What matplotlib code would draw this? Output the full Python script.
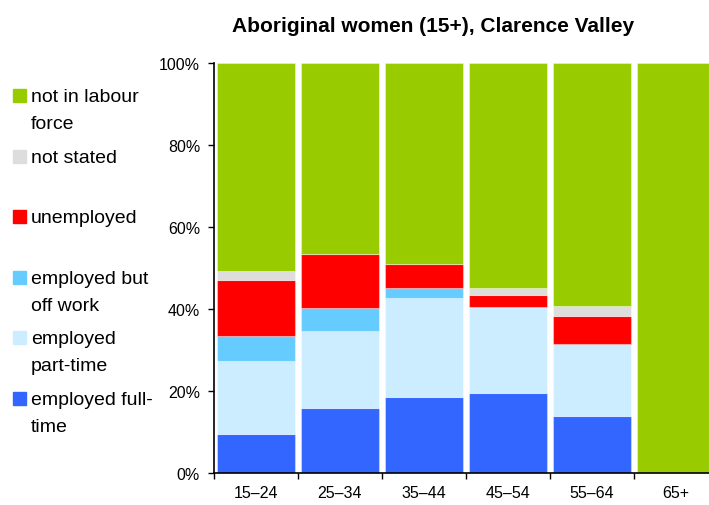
import matplotlib.pyplot as plt
from matplotlib.patches import Rectangle
from matplotlib.ticker import FuncFormatter, FixedLocator

plt.rcParams['font.family'] = ['Liberation Sans', 'DejaVu Sans']

categories = ['15–24', '25–34', '35–44', '45–54', '55–64', '65+']
full_time = [9.5, 15.9, 18.5, 19.5, 13.8, 0]
part_time = [17.8, 18.8, 24.2, 21.0, 17.7, 0]
off_work = [6.2, 5.5, 2.5, 0, 0, 0]
unemployed = [13.6, 13.1, 5.7, 3.0, 6.7, 0]
not_stated = [2.2, 0, 0, 1.6, 2.5, 0]
not_in_lf = [50.7, 46.7, 49.1, 54.9, 59.3, 100]

series = [full_time, part_time, off_work, unemployed, not_stated, not_in_lf]
labels = ['employed full-\ntime', 'employed\npart-time', 'employed but\noff work',
          'unemployed', 'not stated', 'not in labour\nforce']
colors = ['#3366FF', '#CCECFF', '#66CCFF', '#FF0000', '#DDDDDD', '#99CC00']

W, H = 709, 506
fig = plt.figure(figsize=(W / 100, H / 100), dpi=100)
ax = fig.add_axes([214 / W, 32 / H, 504 / W, 410 / H])

x = list(range(len(categories)))
bottom = [0] * len(categories)
for vals, col in zip(series, colors):
    ax.bar(x, vals, bottom=bottom, width=0.93, color=col,
           edgecolor=(1, 1, 1, 0.35), linewidth=0.8)
    bottom = [b + v for b, v in zip(bottom, vals)]

ax.set_xlim(-0.5, 5.5)
ax.set_ylim(0, 100)
ax.set_xticks(x)
ax.set_xticklabels(categories, fontsize=11.5)
ax.xaxis.set_minor_locator(FixedLocator([i - 0.5 for i in range(7)]))
ax.tick_params(axis='x', which='major', length=0, pad=9)
ax.tick_params(axis='x', which='minor', length=4, direction='out', width=1)
ax.set_yticks([0, 20, 40, 60, 80, 100])
ax.yaxis.set_major_formatter(FuncFormatter(lambda v, p: f'{v:.0f}%'))
ax.tick_params(axis='y', length=4, direction='out', width=1, labelsize=11.5, pad=6)
for s in ['top', 'right']:
    ax.spines[s].set_visible(False)
for s in ['left', 'bottom']:
    ax.spines[s].set_linewidth(1.2)

fig.text(433 / W, 1 - 27 / H, 'Aboriginal women (15+), Clarence Valley',
         ha='center', va='center', fontsize=15, fontweight='bold')

# legend, top entry first
for i, (lab, col) in enumerate(zip(labels[::-1], colors[::-1])):
    top = 90 + i * 60.6
    fig.patches.append(Rectangle((13 / W, 1 - (top + 13) / H), 13 / W, 13 / H,
                                 transform=fig.transFigure, color=col))
    fig.text(31 / W, 1 - (top - 1) / H, lab, ha='left', va='top',
             fontsize=14, linespacing=1.75)

fig.savefig('out.png', dpi=100)
